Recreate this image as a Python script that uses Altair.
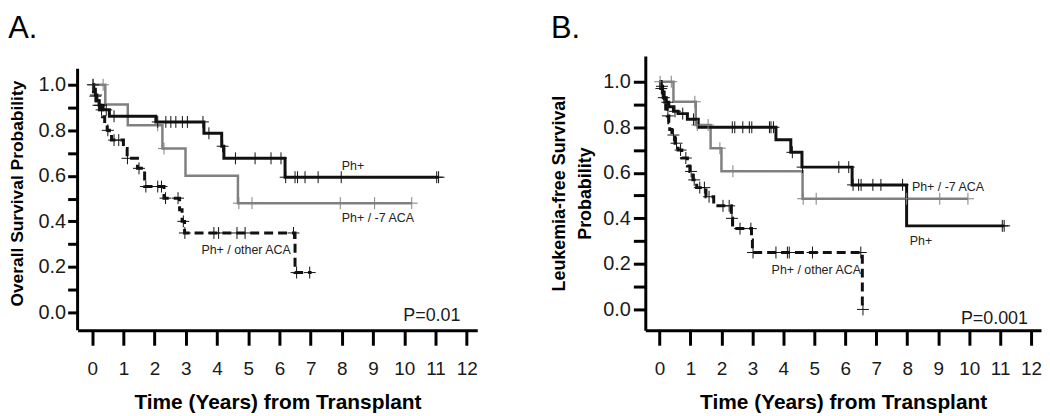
import altair as alt
import pandas as pd

FONT = "Liberation Sans"

# ---------------- Panel A: Overall survival ----------------
A_PH_T = [0, 0.05, 0.10, 0.15, 0.22, 0.35, 0.55, 2.04, 3.58, 4.15, 4.22, 6.18, 11.10]
A_PH_S = [1.0, 0.98, 0.955, 0.93, 0.91, 0.89, 0.862, 0.837, 0.787, 0.73, 0.677, 0.594, 0.594]
A_PH_C = [0.03, 0.12, 0.25, 0.45, 0.70, 2.10, 2.36, 2.52, 2.68, 2.89, 3.05, 3.55, 3.74, 4.18,
          4.59, 5.22, 5.73, 6.05, 6.20, 6.50, 6.58, 6.82, 7.24, 7.98, 11.04, 11.10]

A_M7_T = [0, 0.42, 1.14, 2.25, 2.99, 4.67, 10.24]
A_M7_S = [1.0, 0.913, 0.822, 0.72, 0.60, 0.48, 0.48]
A_M7_C = [0.02, 0.35, 2.10, 2.30, 4.70, 5.12, 7.95, 9.05, 10.24]

A_OT_T = [0, 0.04, 0.08, 0.12, 0.18, 0.25, 0.33, 0.40, 0.48, 0.55, 0.62, 1.00, 1.12, 1.45,
          1.68, 2.30, 2.80, 2.88, 2.96, 6.50, 7.03]
A_OT_S = [1.0, 0.97, 0.95, 0.93, 0.91, 0.89, 0.86, 0.83, 0.80, 0.78, 0.757, 0.72, 0.677, 0.633,
          0.553, 0.502, 0.451, 0.40, 0.349, 0.175, 0.175]
A_OT_C = [0.10, 0.20, 0.30, 0.50, 0.70, 0.85, 1.13, 1.50, 1.72, 2.10, 2.22, 2.35, 2.75, 2.92,
          2.97, 3.90, 4.05, 4.64, 4.90, 6.45, 6.55, 6.97]

A_LABELS = ["Ph+", "Ph+ / -7 ACA", "Ph+ / other ACA"]
A_LABEL_X = [8.0, 8.0, 3.5]
A_LABEL_Y = [0.645, 0.415, 0.275]
A_P = "P=0.01"

# ---------------- Panel B: Leukemia-free survival ----------------
B_PH_T = [0, 0.05, 0.10, 0.15, 0.20, 0.30, 0.45, 0.60, 0.90, 1.25, 3.76, 4.24, 4.60, 6.22, 7.98, 11.13]
B_PH_S = [1.0, 0.98, 0.955, 0.93, 0.91, 0.89, 0.87, 0.86, 0.835, 0.80, 0.745, 0.69, 0.625, 0.547,
          0.367, 0.367]
B_PH_C = [0.08, 0.25, 0.50, 0.75, 1.10, 2.35, 2.43, 2.69, 2.90, 2.98, 3.55, 3.60, 3.68, 4.29,
          4.62, 5.79, 6.11, 6.25, 6.43, 6.51, 6.89, 7.15, 7.85, 11.07, 11.13]

B_M7_T = [0, 0.45, 1.17, 1.65, 2.00, 4.62, 9.96]
B_M7_S = [1.0, 0.912, 0.81, 0.708, 0.607, 0.486, 0.486]
B_M7_C = [0.02, 0.38, 1.14, 1.22, 1.57, 1.95, 2.37, 4.64, 5.06, 7.98, 9.05, 9.96]

B_OT_T = [0, 0.04, 0.08, 0.12, 0.16, 0.20, 0.25, 0.30, 0.33, 0.40, 0.50, 0.60, 0.72, 0.90, 0.98,
          1.08, 1.20, 1.50, 1.75, 2.32, 2.36, 2.97, 3.00, 6.55]
B_OT_S = [1.0, 0.97, 0.95, 0.93, 0.91, 0.88, 0.85, 0.82, 0.79, 0.766, 0.73, 0.70, 0.665, 0.63,
          0.606, 0.569, 0.535, 0.495, 0.455, 0.40, 0.355, 0.305, 0.25, 0.0]
B_OT_C = [0.06, 0.14, 0.27, 0.45, 0.55, 0.68, 0.85, 1.02, 1.12, 1.30, 1.45, 1.60, 2.05, 2.25,
          2.34, 2.60, 2.95, 3.02, 3.76, 4.13, 4.19, 4.94, 6.50, 6.57]

B_LABELS = ["Ph+ / -7 ACA", "Ph+", "Ph+ / other ACA"]
B_LABEL_X = [8.15, 8.08, 3.62]
B_LABEL_Y = [0.537, 0.30, 0.175]
B_P = "P=0.001"

X_TICKS = list(range(0, 13))
Y_TICKS = [round(i * 0.1, 1) for i in range(0, 11)]

BLACK = "#111111"
GRAY = "#808080"
CROSS = "M0,-1L0,1M-1,0L1,0"


def lookup(times, surv, c):
    v = surv[0]
    for t, s in zip(times, surv):
        if t <= c:
            v = s
    return v


def panel(series, labels, lab_x, lab_y, ptext, p_x, p_y, xdom, ydom, width, height,
          ytitle, title, ytick, ylabpad, ytitlepad, ytitlesize, draw_rule, rule_top):
    xaxis = alt.Axis(values=X_TICKS, tickSize=15, tickWidth=3, tickColor="black",
                     domainWidth=3, domainColor="black", labelFontSize=19, labelFont=FONT,
                     labelColor="#1a1a1a", labelPadding=14, labelFlush=False, labelOverlap=False,
                     titleFont=FONT, titleFontSize=21, titleFontWeight="bold", titleColor="black",
                     titlePadding=14, grid=False)
    yaxis = alt.Axis(values=Y_TICKS, tickSize=ytick, tickWidth=3, tickColor="black",
                     domain=not draw_rule, domainWidth=3, domainColor="black",
                     labelFontSize=20, labelFont=FONT, labelColor="#1a1a1a", labelPadding=ylabpad,
                     labelExpr="round(datum.value*10) % 2 == 0 ? format(datum.value, '.1f') : ''",
                     labelOverlap=False, labelFlush=False,
                     titleFont=FONT, titleFontSize=ytitlesize, titleFontWeight="bold",
                     titleColor="black", titlePadding=ytitlepad, titleLineHeight=26, grid=False)
    X = alt.X("t:Q", scale=alt.Scale(domain=xdom, nice=False, zero=False), axis=xaxis,
              title="Time (Years) from Transplant")
    Y = alt.Y("s:Q", scale=alt.Scale(domain=ydom, nice=False, zero=False), axis=yaxis,
              title=ytitle)

    layers = []
    for times, surv, cens, color, width_s, dash in series:
        df = pd.DataFrame({"t": times, "s": surv})
        layers.append(
            alt.Chart(df).mark_line(interpolate="step-after", color=color, strokeWidth=width_s,
                                    strokeDash=dash).encode(x=X, y=Y)
        )
    for times, surv, cens, color, width_s, dash in series:
        cdf = pd.DataFrame({"t": cens, "s": [lookup(times, surv, c) for c in cens]})
        layers.append(
            alt.Chart(cdf).mark_point(shape=CROSS, size=144, filled=False, strokeWidth=1,
                                      color=color, opacity=1).encode(x=X, y=Y)
        )
    ldf = pd.DataFrame({"t": lab_x, "s": lab_y, "label": labels})
    layers.append(
        alt.Chart(ldf).mark_text(align="left", baseline="middle", font=FONT, fontSize=12.5,
                                 color="#222222").encode(x=X, y=Y, text="label:N")
    )
    pdf = pd.DataFrame({"t": [p_x], "s": [p_y], "label": [ptext]})
    layers.append(
        alt.Chart(pdf).mark_text(align="right", baseline="middle", font=FONT, fontSize=18,
                                 color="#1a1a1a").encode(x=X, y=Y, text="label:N")
    )
    if draw_rule:
        layers.append(
            alt.Chart(pd.DataFrame({"t": [0]})).mark_rule(color="black", strokeWidth=3).encode(
                x=alt.value(0), y=alt.value(rule_top), y2=alt.value(height))
        )
    return alt.layer(*layers).properties(
        width=width, height=height,
        title=alt.TitleParams(text=title, anchor="start", frame="bounds", fontSize=31,
                              font=FONT, fontWeight="normal", color="black", offset=11),
    )


a_series = [
    (A_M7_T, A_M7_S, A_M7_C, GRAY, 2.5, [1, 0]),
    (A_PH_T, A_PH_S, A_PH_C, BLACK, 3, [1, 0]),
    (A_OT_T, A_OT_S, A_OT_C, BLACK, 3, [9, 5]),
]
b_series = [
    (B_M7_T, B_M7_S, B_M7_C, GRAY, 2.5, [1, 0]),
    (B_PH_T, B_PH_S, B_PH_C, BLACK, 3, [1, 0]),
    (B_OT_T, B_OT_S, B_OT_C, BLACK, 3, [9, 5]),
]

panel_a = panel(a_series, A_LABELS, A_LABEL_X, A_LABEL_Y, A_P, 11.8, -0.015,
                [-0.468, 12.34], [-0.0786, 1.127], 402, 276,
                "Overall Survival Probability", "A.", 10, 2, 12, 17.5, True, 13)
panel_b = panel(b_series, B_LABELS, B_LABEL_X, B_LABEL_Y, B_P, 11.9, -0.04,
                [-0.459, 12.32], [-0.0917, 1.1135], 398, 276,
                ["Leukemia-free Survival", "Probability"], "B.", 12, 3, 8, 18, False, 0)

chart = alt.hconcat(panel_a, panel_b, spacing=74).properties(
    padding={"top": 4, "left": 0, "right": 0, "bottom": 0}
).configure_view(stroke=None)

chart.save("out.html", embed_options={"renderer": "svg", "actions": False})
